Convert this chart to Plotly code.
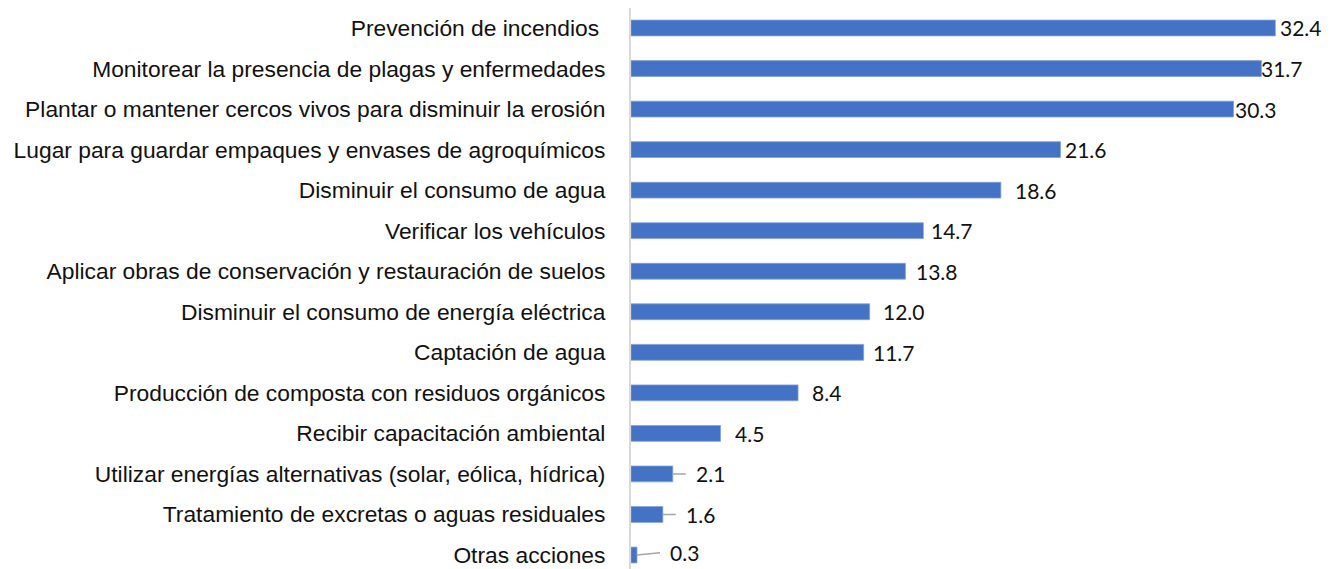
import plotly.graph_objects as go

categories = [
    "Prevención de incendios\u00a0",
    "Monitorear la presencia de plagas y enfermedades",
    "Plantar o mantener cercos vivos para disminuir la erosión",
    "Lugar para guardar empaques y envases de agroquímicos",
    "Disminuir el consumo de agua",
    "Verificar los vehículos",
    "Aplicar obras de conservación y restauración de suelos",
    "Disminuir el consumo de energía eléctrica",
    "Captación de agua",
    "Producción de composta con residuos orgánicos",
    "Recibir capacitación ambiental",
    "Utilizar energías alternativas (solar, eólica, hídrica)",
    "Tratamiento de excretas o aguas residuales",
    "Otras acciones",
]
values = [32.4, 31.7, 30.3, 21.6, 18.6, 14.7, 13.8, 12.0, 11.7, 8.4, 4.5, 2.1, 1.6, 0.3]
value_labels = ["32.4", "31.7", "30.3", "21.6", "18.6", "14.7", "13.8", "12.0", "11.7", "8.4", "4.5", "2.1", "1.6", "0.3"]

# label placement (pixel offsets from bar end) and whether a leader line is drawn
label_dx = [3, -2, -1, 2, 12, 6, 9, 11, 7, 12, 13, 21, 21, 31]
label_dy = [0, 0, 0, 0, 0, 0, 0, 0, 0, 0, 0, 0, 0, -3]
leader = [False] * 11 + [True, True, True]

BLUE = "#4472C4"

fig = go.Figure()
fig.add_trace(go.Bar(
    x=values, y=categories, orientation="h",
    marker=dict(color=BLUE, line=dict(color="#7f9fd9", width=0.8)),
    width=0.39, hoverinfo="x+y",
))

val_font = dict(family="Lato, Carlito, Calibri, sans-serif", size=21, color="#111111")
for v, c, t, dx, dy, ld in zip(values, categories, value_labels, label_dx, label_dy, leader):
    if ld:
        fig.add_annotation(
            x=v, y=c, text=t, showarrow=True, arrowhead=0, arrowwidth=1.5,
            arrowcolor="#a6a6a6", ax=dx, ay=dy, xanchor="left", yanchor="middle",
            standoff=0, startstandoff=8, font=val_font,
        )
    else:
        fig.add_annotation(
            x=v, y=c, text=t, showarrow=False, xanchor="left", yanchor="middle",
            xshift=dx, font=val_font,
        )

# page body has an 8px margin, so the figure is sized to end at the window edge
fig.update_layout(
    width=1334, height=561,
    margin=dict(l=623, r=15, t=0, b=0, autoexpand=False),
    paper_bgcolor="white", plot_bgcolor="white",
    showlegend=False,
    xaxis=dict(range=[0, 35], showticklabels=False, showgrid=False,
               zeroline=False, showline=False, fixedrange=True, automargin=False),
    yaxis=dict(type="category", categoryorder="array", categoryarray=categories,
               range=[13.345, -0.493], showgrid=False, zeroline=False,
               showline=True, linecolor="#d9d9d9", linewidth=2,
               ticks="", ticklabelstandoff=19, automargin=False,
               tickfont=dict(family="Liberation Sans, Arial, sans-serif",
                             size=22.8, color="#111111")),
)

fig.write_html("out.html")
